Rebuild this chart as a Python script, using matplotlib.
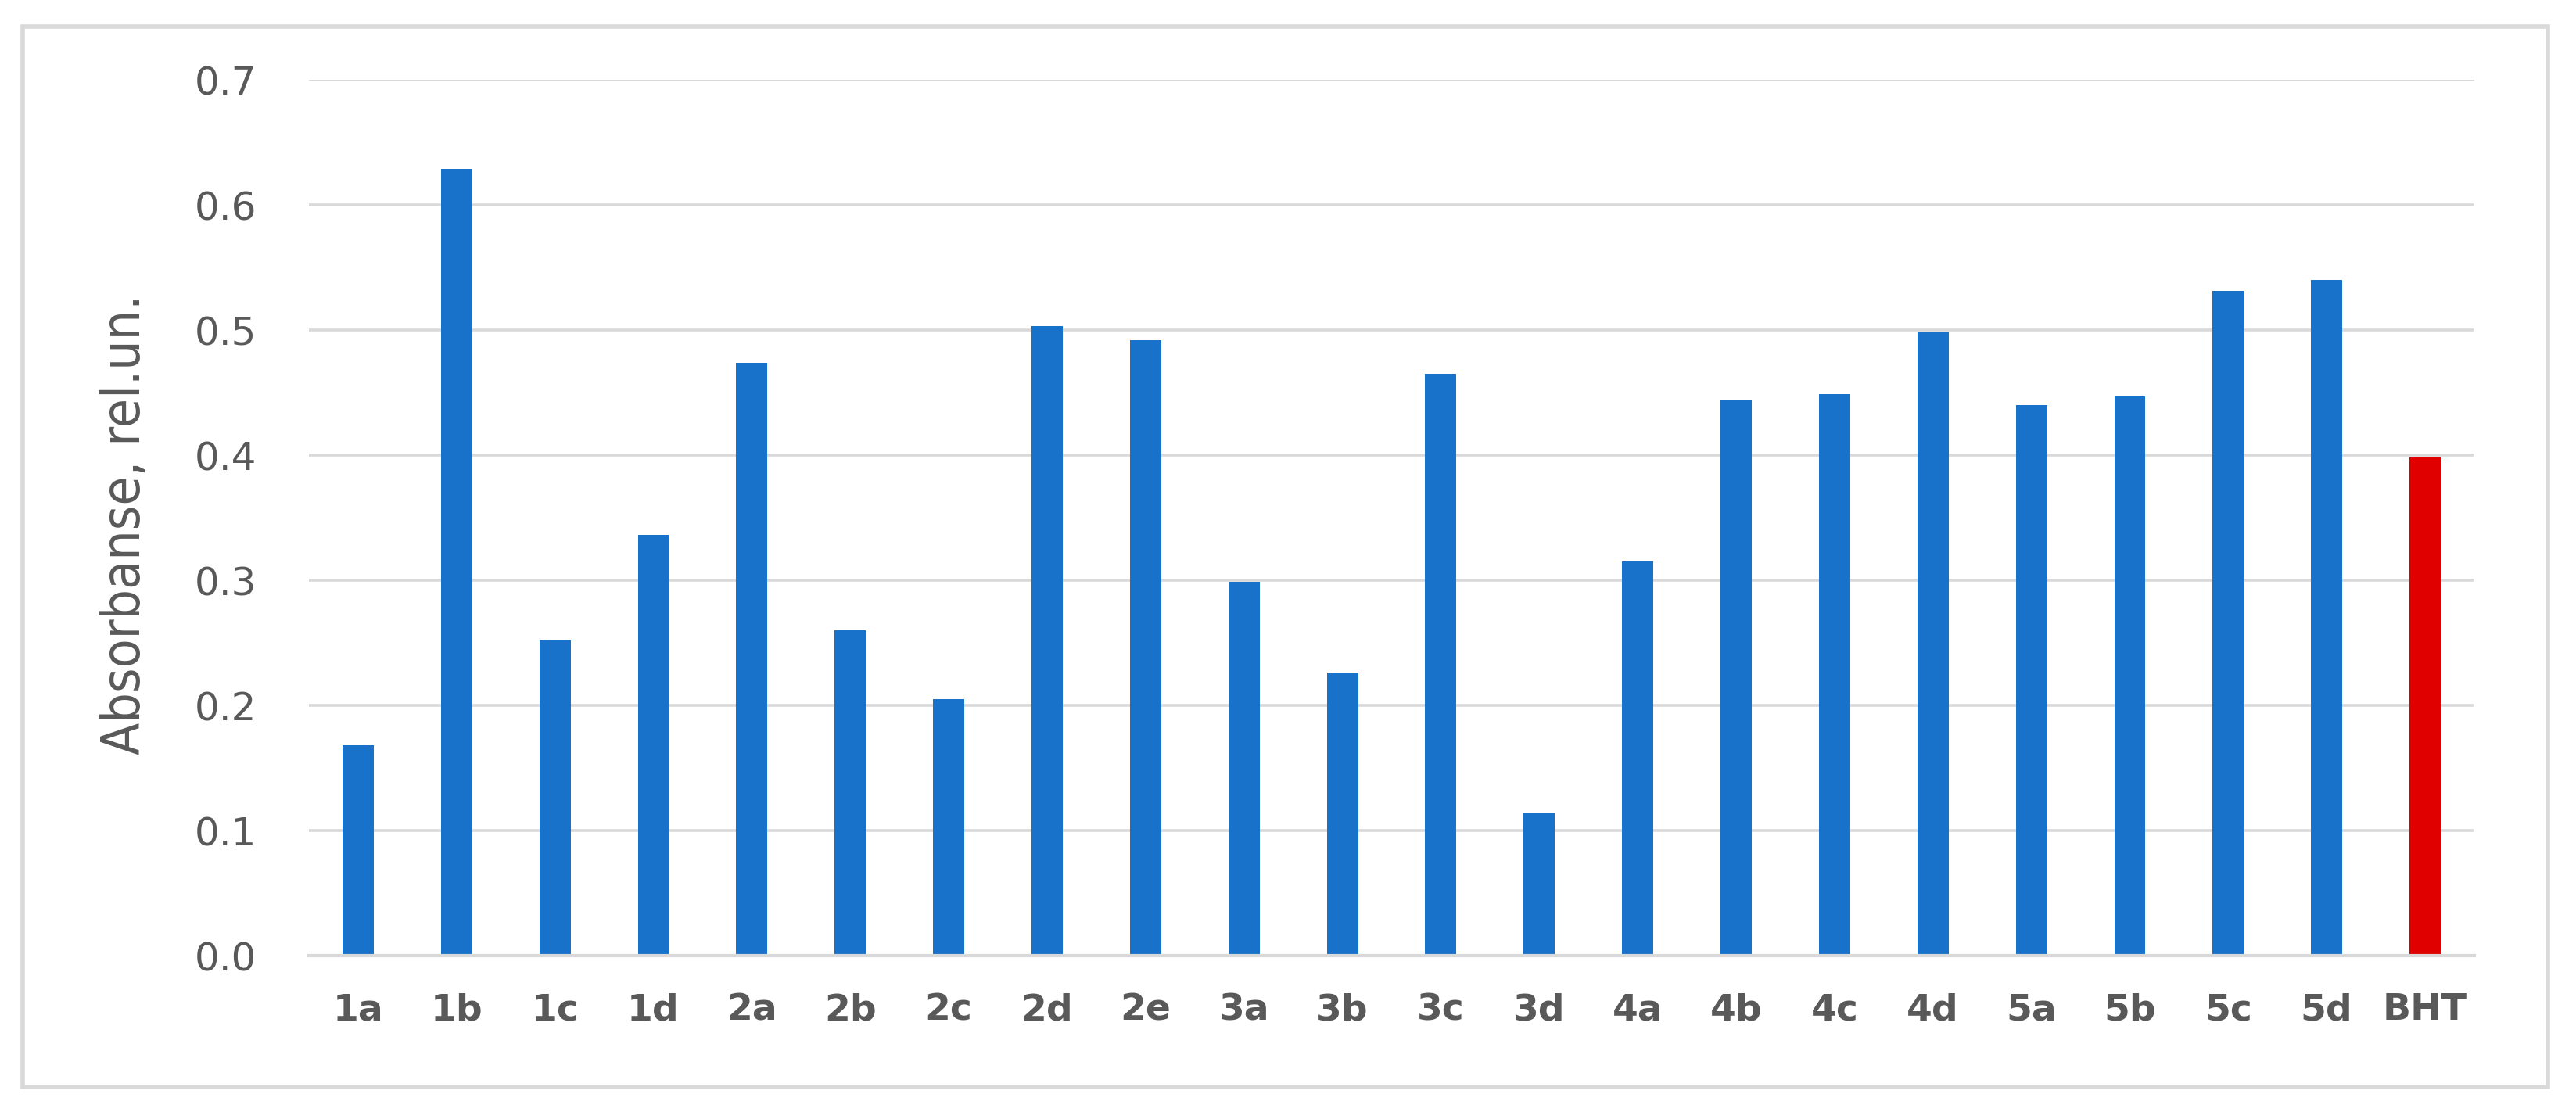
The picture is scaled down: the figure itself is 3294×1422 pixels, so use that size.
import matplotlib
matplotlib.use("Agg")
import matplotlib.pyplot as plt
from matplotlib import font_manager as fm
from matplotlib.patches import Rectangle

categories = ["1a", "1b", "1c", "1d", "2a", "2b", "2c", "2d", "2e", "3a", "3b",
              "3c", "3d", "4a", "4b", "4c", "4d", "5a", "5b", "5c", "5d", "BHT"]
values = [0.168, 0.629, 0.252, 0.336, 0.474, 0.260, 0.205, 0.503, 0.492, 0.299, 0.226,
          0.465, 0.114, 0.315, 0.444, 0.449, 0.499, 0.440, 0.447, 0.531, 0.540, 0.398]
bar_colors = ["#1872C9"] * 21 + ["#E00000"]
y_ticks = [0.0, 0.1, 0.2, 0.3, 0.4, 0.5, 0.6, 0.7]
y_tick_labels = ["0.0", "0.1", "0.2", "0.3", "0.4", "0.5", "0.6", "0.7"]
y_label = "Absorbanse, rel.un."

W, H = 3294, 1422
fig = plt.figure(figsize=(W / 100, H / 100), dpi=100)
fig.patch.set_facecolor("white")

# outer chart border
fig.patches.append(Rectangle((29 / W, 1 - 1390 / H), (3258 - 29) / W, (1390 - 34) / H,
                             transform=fig.transFigure, fill=False,
                             edgecolor="#D9D9D9", linewidth=4, zorder=0))

ax = fig.add_axes([395 / W, 1 - 1222 / H, (3164 - 395) / W, (1222 - 102) / H])
x = list(range(len(categories)))
ax.bar(x, values, width=0.317, color=bar_colors, zorder=3)
ax.set_xlim(-0.5, len(categories) - 0.5)
ax.set_ylim(0, 0.7)
ax.set_yticks(y_ticks)
ax.set_yticklabels(y_tick_labels)
ax.set_xticks(x)
ax.set_xticklabels(categories)

for s in ["top", "right", "left"]:
    ax.spines[s].set_visible(False)
ax.spines["bottom"].set_color("#D9D9D9")
ax.spines["bottom"].set_linewidth(3)
ax.spines["bottom"].set_zorder(4)
ax.grid(axis="y", color="#D9D9D9", linewidth=2.6, zorder=0)
ax.set_axisbelow(True)
ax.tick_params(axis="both", length=0)
ax.tick_params(axis="y", pad=48, labelsize=36, labelcolor="#595959")
ax.tick_params(axis="x", pad=34, labelsize=34, labelcolor="#595959")
for t in ax.get_xticklabels():
    t.set_fontweight("bold")

# find a condensed font if available for the axis title
cond_fp = None
for f in fm.fontManager.ttflist:
    if f.stretch in ("condensed", "semi-condensed", "extra-condensed") and f.style == "normal" \
            and (f.weight in (400, "normal", "regular", "book")):
        cond_fp = fm.FontProperties(fname=f.fname)
        break
if cond_fp is None:
    for name in ["Roboto Condensed", "Open Sans Condensed", "Liberation Sans Narrow"]:
        if any(f.name == name for f in fm.fontManager.ttflist):
            cond_fp = fm.FontProperties(family=name)
            break
if cond_fp is None:
    cond_fp = fm.FontProperties(family="DejaVu Sans")

txt = fig.text(160 / W, 1 - 671 / H, y_label, rotation=90, ha="center", va="center",
               color="#595959", fontproperties=cond_fp)
txt.set_fontsize(50)
fig.canvas.draw()
r = fig.canvas.get_renderer()
ext = txt.get_window_extent(r)
target = 588.0
txt.set_fontsize(50 * target / ext.height)

fig.savefig("out.png", dpi=100, facecolor="white")
